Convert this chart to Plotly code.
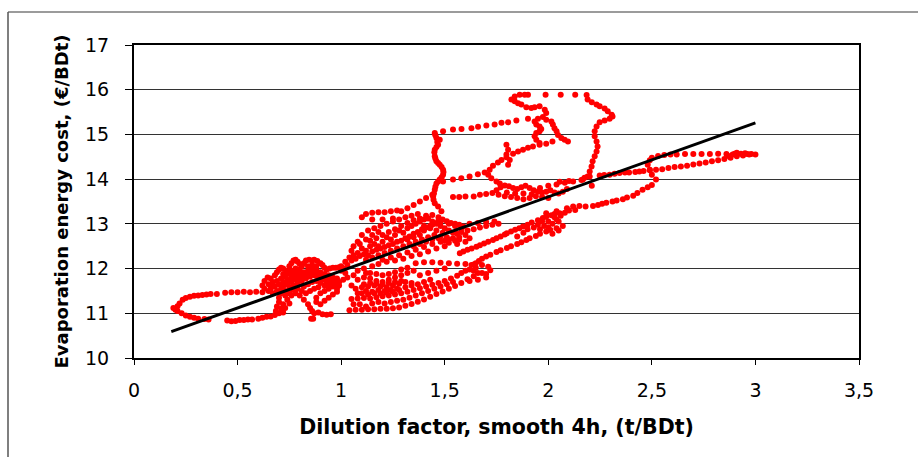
import plotly.graph_objects as go

# ---------------- data ----------------
loop_upper = [(0.19,11.12),(0.20,11.08),(0.21,11.16),(0.22,11.22),(0.235,11.30),(0.25,11.34),(0.27,11.37),
              (0.29,11.39),(0.31,11.40),(0.33,11.41),(0.35,11.42),(0.37,11.43),(0.40,11.43),(0.44,11.46),
              (0.47,11.47),(0.50,11.47),(0.53,11.48),(0.56,11.47),(0.59,11.48),(0.62,11.47),(0.65,11.50)]
loop_lower = [(0.21,11.05),(0.23,11.00),(0.25,10.95),(0.27,10.92),(0.29,10.90),(0.31,10.88),(0.34,10.87),
              (0.36,10.86),(0.45,10.84),(0.47,10.82),(0.49,10.83),(0.51,10.85),(0.53,10.85),(0.55,10.86),
              (0.57,10.86),(0.60,10.88),(0.62,10.90),(0.64,10.92),(0.66,10.93),(0.68,10.96)]
left_cluster = [(0.62,11.62),(0.63,11.72),(0.645,11.80),(0.66,11.78),(0.67,11.70),(0.68,11.85),(0.69,11.92),
                (0.70,11.98),(0.71,12.02),(0.72,12.00),(0.735,11.95),(0.75,12.05),(0.76,12.12),(0.77,12.18),
                (0.78,12.20),(0.79,12.15),(0.80,12.10),(0.81,12.05),(0.82,12.12),(0.83,12.18),(0.845,12.20),
                (0.86,12.18),(0.87,12.20),(0.885,12.17),(0.90,12.12),(0.91,12.08),(0.92,12.02),(0.93,11.98),
                (0.945,12.00),(0.96,12.02),(0.975,12.02),(0.99,12.03),
                (0.66,11.55),(0.68,11.60),(0.70,11.65),(0.72,11.70),(0.74,11.75),(0.76,11.80),(0.78,11.85),
                (0.80,11.88),(0.82,11.92),(0.84,11.95),(0.86,11.98),(0.88,11.96),(0.90,11.92),(0.92,11.88),
                (0.94,11.85),(0.96,11.80),(0.98,11.78),
                (0.67,11.45),(0.69,11.50),(0.71,11.55),(0.73,11.50),(0.75,11.58),(0.77,11.62),(0.79,11.68),
                (0.81,11.72),(0.83,11.78),(0.85,11.82),(0.87,11.85),(0.89,11.80),(0.91,11.75),(0.93,11.70),
                (0.95,11.68),(0.97,11.72),(0.99,11.70),
                (0.72,11.88),(0.74,11.92),(0.76,11.95),(0.78,12.00),(0.80,11.98),(0.84,12.05),(0.86,12.08),
                (0.88,12.05),(0.70,11.35),(0.70,11.25),(0.69,11.15),(0.685,11.05),(0.70,11.00),(0.72,11.02),
                (0.74,11.30),(0.75,11.22),(0.76,11.40),(0.78,11.45),(0.80,11.40),(0.82,11.30),(0.84,11.20),
                (0.85,11.12),(0.86,11.05),(0.87,11.00),(0.855,10.88),(0.865,10.88),
                (0.88,11.35),(0.90,11.45),(0.92,11.50),(0.94,11.55),(0.96,11.60),(0.98,11.55),
                (0.89,11.02),(0.91,10.98),(0.93,10.97),(0.95,10.98),(0.88,11.25),(0.90,11.20),(0.92,11.28),
                (0.94,11.35),(0.96,11.42),(0.98,11.48),
                (0.63,11.55),(0.65,11.65),(0.67,11.62),(0.69,11.72),(0.71,11.78),(0.73,11.82),(0.75,11.88),
                (0.77,11.92),(0.79,11.95),(0.81,11.82),(0.83,11.88),(0.85,11.90),(0.87,11.92),(0.89,11.88),
                (0.91,11.85),(0.93,11.80),(0.95,11.75),(0.97,11.65),(0.99,11.62),(0.72,11.60),(0.74,11.65),
                (0.76,11.70),(0.78,11.75),(0.80,11.78),(0.82,11.60),(0.84,11.65),(0.86,11.70),(0.88,11.72),
                (0.90,11.68),(0.92,11.62),(0.94,11.60),(0.71,11.45),(0.73,11.40),(0.75,11.45),(0.77,11.52),
                (0.79,11.55),(0.81,11.50),(0.83,11.45),(0.85,11.50),(0.87,11.55),(0.89,11.58),(0.71,11.10),
                (0.72,11.20),(0.73,11.12),(1.00,11.95),(1.02,11.90),(1.03,11.80),(1.01,11.75)]
mid_low = [(1.04,11.07),(1.07,11.08),(1.10,11.08),(1.13,11.09),(1.16,11.09),(1.19,11.10),(1.22,11.10),
           (1.25,11.11),(1.28,11.13),(1.31,11.17),(1.34,11.21),(1.37,11.26),(1.40,11.31),(1.43,11.37),
           (1.46,11.43),(1.49,11.49),(1.52,11.55),(1.55,11.61),(1.58,11.68),(1.61,11.76),(1.64,11.83),
           (1.66,11.90),
           (1.05,11.32),(1.08,11.33),(1.11,11.34),(1.14,11.33),(1.17,11.36),(1.20,11.38),(1.23,11.40),
           (1.26,11.42),(1.29,11.45),(1.32,11.48),(1.35,11.52),(1.38,11.56),(1.41,11.60),(1.44,11.64),
           (1.47,11.68),(1.50,11.72),(1.53,11.78),(1.56,11.84),(1.58,11.90),(1.60,11.95),(1.62,11.98),
           (1.07,11.55),(1.10,11.58),(1.13,11.60),(1.16,11.62),(1.19,11.60),(1.22,11.58),(1.25,11.62),
           (1.28,11.66),(1.31,11.70),(1.34,11.68),(1.37,11.65),(1.40,11.70),(1.43,11.75),
           (1.08,11.75),(1.11,11.80),(1.14,11.78),(1.17,11.72),(1.20,11.70),(1.23,11.75),(1.26,11.80),
           (1.29,11.85),(1.32,11.90),(1.35,11.95),
           (1.09,11.20),(1.10,11.45),(1.11,11.65),(1.12,11.90),(1.11,12.00),
           (1.12,11.50),(1.15,11.48),(1.18,11.52),(1.21,11.50),(1.24,11.52),(1.27,11.55),(1.14,11.68),
           (1.17,11.66),(1.20,11.65),(1.23,11.68),(1.26,11.70),(1.29,11.72),
           (1.38,11.85),(1.42,11.90),(1.46,11.95),(1.50,12.00),
           (1.36,12.12),(1.40,12.14),(1.44,12.14),(1.48,12.13),(1.52,12.12),(1.56,12.11),(1.60,12.10),
           (1.64,12.09),(1.68,12.08),(1.71,12.04),(1.72,11.96),(1.70,11.88),
           (1.06,11.20),(1.08,11.45),(1.12,11.15),(1.15,11.22),(1.18,11.25),(1.21,11.22),(1.24,11.25),
           (1.27,11.28),(1.30,11.30),(1.33,11.35),(1.36,11.40),(1.39,11.45),(1.42,11.50),(1.45,11.55),
           (1.48,11.60),(1.51,11.65),(1.54,11.70),
           (1.13,11.42),(1.16,11.45),(1.19,11.44),(1.22,11.46),(1.25,11.48),(1.28,11.52),(1.31,11.58),
           (1.34,11.62),(1.05,11.62),(1.06,11.85),(1.08,11.95),(1.14,11.90),(1.17,11.88),(1.20,11.85),
           (1.23,11.88),(1.26,11.92),(1.29,11.98),(1.32,12.02),
           (1.62,11.72),(1.64,11.95),(1.65,12.02),(1.68,11.90),(1.70,11.80),(1.66,11.75)]
core = [(1.00,12.05),(1.02,12.15),(1.04,12.25),(1.06,12.30),(1.05,12.40),(1.08,12.35),(1.10,12.45),
        (1.12,12.40),(1.14,12.50),(1.16,12.55),(1.18,12.50),(1.20,12.60),(1.22,12.70),(1.24,12.65),
        (1.26,12.75),(1.28,12.85),(1.30,12.80),(1.32,12.90),(1.34,12.95),(1.36,13.00),(1.38,13.05),
        (1.40,13.10),(1.42,13.12),(1.44,13.05),(1.46,13.00),(1.48,12.95),(1.50,12.90),(1.52,12.85),
        (1.54,12.80),(1.56,12.78),
        (1.12,12.20),(1.15,12.25),(1.18,12.30),(1.21,12.35),(1.24,12.40),(1.27,12.45),(1.30,12.50),
        (1.33,12.55),(1.36,12.60),(1.39,12.65),(1.42,12.70),(1.45,12.75),(1.48,12.72),(1.51,12.70),
        (1.54,12.68),(1.57,12.70),(1.60,12.75),
        (1.15,12.05),(1.18,12.10),(1.22,12.15),(1.26,12.18),(1.30,12.22),(1.34,12.28),(1.38,12.32),
        (1.42,12.38),(1.46,12.45),(1.50,12.50),
        (1.08,12.60),(1.10,12.75),(1.13,12.85),(1.16,12.90),(1.19,12.95),(1.22,13.00),(1.25,13.05),
        (1.28,13.10),(1.31,13.15),(1.34,13.18),(1.37,13.22),
        (1.10,13.15),(1.12,13.22),(1.15,13.25),(1.18,13.26),(1.21,13.26),(1.24,13.28),(1.27,13.30),
        (1.15,13.10),(1.20,13.10),(1.25,13.12),
        (1.40,12.85),(1.43,12.90),(1.46,12.85),(1.49,12.80),(1.40,12.95),(1.44,12.98),(1.48,13.05),
        (1.52,13.00),(1.55,12.95),(1.58,12.90),(1.38,12.75),(1.35,12.70),(1.32,12.65),
        (1.52,12.65),(1.55,12.62),(1.57,12.65),
        (1.29,13.28),(1.32,13.35),(1.35,13.42),(1.38,13.50),(1.41,13.58),(1.44,13.65),
        (1.01,12.00),(1.03,12.08),(1.05,12.18),(1.07,12.22),(1.09,12.28),(1.11,12.32),(1.13,12.30),
        (1.15,12.38),(1.17,12.42),(1.19,12.45),(1.21,12.48),(1.23,12.52),(1.25,12.55),(1.27,12.60),
        (1.29,12.62),(1.31,12.68),(1.33,12.72),(1.35,12.78),(1.37,12.82),(1.39,12.88),(1.41,12.92),
        (1.43,12.96),(1.45,13.02),(1.47,13.08),(1.49,13.10),(1.51,13.06),(1.53,13.02),(1.55,13.00),
        (1.57,12.98),(1.59,12.94),
        (1.14,12.62),(1.17,12.68),(1.20,12.75),(1.23,12.82),(1.26,12.88),(1.29,12.95),(1.32,13.02),
        (1.35,13.08),(1.38,13.12),(1.41,13.18),(1.44,13.20),(1.47,13.15),
        (1.20,12.20),(1.24,12.25),(1.28,12.30),(1.32,12.36),(1.36,12.42),(1.40,12.48),(1.44,12.55),
        (1.48,12.60),(1.52,12.58),(1.56,12.55),(1.60,12.60),(1.62,12.68),
        (1.06,12.50),(1.09,12.55),(1.12,12.65),(1.15,12.75),(1.18,12.82),
        (1.35,12.50),(1.38,12.55),(1.41,12.60),(1.44,12.65),(1.47,12.68),(1.50,12.62),
        (1.58,12.82),(1.61,12.85),(1.64,12.88),(1.67,12.92),(1.70,12.95),(1.73,12.98),(1.76,13.00),
        (1.62,13.00),(1.66,13.02),(1.70,13.04),(1.74,13.05)]
top_row_core = [(1.54,13.60),(1.57,13.60),(1.60,13.61),(1.64,13.61),(1.67,13.65),(1.70,13.67),(1.73,13.69)]
blob_13_8 = [(1.75,13.75),(1.77,13.82),(1.79,13.86),(1.81,13.84),(1.83,13.80),(1.85,13.78),(1.87,13.82),
             (1.89,13.85),(1.91,13.80),(1.93,13.75),(1.95,13.72),(1.97,13.70),(1.99,13.72),(2.01,13.75),
             (2.03,13.70),(2.05,13.68),(2.07,13.72),(2.09,13.78),
             (1.76,13.65),(1.79,13.62),(1.82,13.60),(1.85,13.58),(1.88,13.55),(1.91,13.58),(1.94,13.62),
             (1.97,13.60),(2.00,13.58),(1.80,13.70),(1.84,13.68),(1.88,13.68),(1.92,13.66),(1.96,13.80),
             (2.00,13.85),(2.04,13.88),(2.08,13.92),(2.12,13.95)]
right_low_diag = [(1.573,12.34),(1.61,12.42),(1.653,12.49),(1.69,12.56),(1.733,12.64),(1.77,12.72),
                  (1.80,12.79),(1.84,12.87),(1.878,12.94),(1.92,13.03),(1.974,13.13),(2.015,13.19),
                  (2.055,13.24),
                  (1.629,12.08),(1.665,12.17),(1.70,12.27),(1.75,12.37),(1.80,12.46),(1.85,12.55),
                  (1.894,12.64),(1.94,12.73),(1.99,12.83),(2.04,12.90),
                  (1.99,13.24),(2.04,13.28),(2.09,13.35),(2.12,13.39),(2.15,13.40),(2.18,13.39),(2.216,13.40),
                  (2.26,13.45),(2.31,13.50),(2.36,13.55),(2.41,13.63),(2.455,13.76),(2.48,13.82),(2.50,13.87),
                  (2.52,13.99),(2.50,14.10),(2.49,14.21),(2.48,14.32),(2.49,14.42),
                  (2.02,13.00),(2.04,13.10),(2.06,13.18),(2.00,12.92),(1.97,13.05),(1.95,12.98),
                  (1.59,12.38),(1.63,12.45),(1.67,12.52),(1.71,12.60),(1.75,12.68),(1.79,12.76),(1.82,12.83),
                  (1.86,12.90),(1.90,12.98),(1.95,13.08),(1.99,13.16),(2.03,13.22),
                  (1.65,12.12),(1.68,12.22),(1.72,12.31),(1.77,12.41),(1.82,12.50),(1.87,12.59),(1.91,12.68),
                  (1.96,12.78),(2.01,12.86),
                  (1.98,12.95),(2.00,13.05),(2.03,13.15),(2.05,13.05),(2.07,12.95),(2.05,12.85),(2.02,12.78),
                  (1.96,12.88),(1.93,12.92),(1.90,12.88),(1.88,12.80),(1.85,12.72),(2.08,13.25),(2.10,13.30),
                  (2.13,13.31),(2.24,13.42),(2.28,13.47),(2.33,13.52),(2.38,13.59),(2.43,13.69)]
branch_14 = [(2.055,13.94),(2.10,13.96),(2.167,13.99),(2.20,14.06),(2.248,14.08),(2.296,14.10),
             (2.344,14.14),(2.39,14.15),(2.44,14.17),(2.46,14.18),(2.49,14.20),(2.52,14.21),(2.55,14.22),
             (2.58,14.25),(2.61,14.27),(2.64,14.28),(2.67,14.30),(2.70,14.33),(2.73,14.35),(2.76,14.37),
             (2.79,14.40),(2.82,14.42),(2.85,14.45),(2.88,14.48),(2.91,14.51),(2.94,14.53),(2.21,13.85),
             (2.27,14.09),(2.32,14.12),(2.37,14.15),(2.42,14.16)]
row_14_56 = [(2.50,14.48),(2.53,14.52),(2.56,14.54),(2.59,14.55),(2.62,14.55),(2.66,14.56),(2.70,14.56),
             (2.74,14.56),(2.78,14.56),(2.82,14.57),(2.86,14.56),(2.90,14.57),(2.93,14.57),(2.96,14.56),
             (2.98,14.56),(3.00,14.55),(2.87,14.52),(2.89,14.55),(2.91,14.59),(2.95,14.58),(2.97,14.55)]
left_squiggle = [(1.452,15.03),(1.46,14.92),(1.476,14.88),(1.468,14.77),(1.452,14.66),(1.452,14.51),
                 (1.46,14.40),(1.476,14.32),(1.492,14.21),(1.492,14.10),(1.476,13.99),(1.46,13.90),
                 (1.452,13.76),(1.444,13.61),(1.452,13.46),(1.468,13.39),(1.484,13.28),
                 (1.455,14.98),(1.464,14.83),(1.46,14.72),(1.45,14.60),(1.455,14.46),(1.468,14.36),
                 (1.485,14.27),(1.494,14.16),(1.485,14.04),(1.468,13.95),(1.455,13.83),(1.448,13.68),
                 (1.446,13.54)]
row_15_2 = [(1.492,15.07),(1.54,15.11),(1.581,15.12),(1.629,15.14),(1.661,15.17),(1.701,15.20),
            (1.741,15.22),(1.774,15.26),(1.806,15.27),(1.846,15.31),(1.902,15.35)]
diag_upper = [(1.492,13.95),(1.54,13.99),(1.58,14.02),(1.62,14.06),(1.66,14.11),(1.693,14.15),(1.717,14.21),
              (1.733,14.30),(1.757,14.37),(1.774,14.43),(1.798,14.49),(1.83,14.57),(1.854,14.62),
              (1.878,14.66),(1.902,14.70),(1.926,14.73),(1.958,14.77),(1.99,14.79),(2.02,14.84),
              (1.798,14.77),(1.806,14.66),(1.798,14.55),(1.814,14.43),(1.806,14.32),
              (1.71,14.10),(1.725,14.02),(1.75,13.95),(1.766,13.90)]
mid_squiggle = [(1.822,15.78),(1.838,15.74),(1.854,15.70),(1.87,15.67),(1.894,15.61),(1.918,15.59),
                (1.934,15.61),(1.958,15.63),(1.983,15.55),(1.99,15.48),(1.974,15.39),(1.95,15.35),
                (1.934,15.29),(1.942,15.22),(1.958,15.18),(1.966,15.12),(1.958,15.07),(1.942,15.03),
                (1.934,14.96),(1.942,14.88),(1.958,14.81),
                (1.99,15.33),(2.015,15.29),(2.022,15.22),(2.03,15.14),(2.04,15.07),(2.047,14.99),
                (2.063,14.92),(2.079,14.88),(2.095,14.84)]
top_row = [(1.838,15.85),(1.862,15.89),(1.886,15.89),(1.902,15.89),(1.987,15.89),(2.06,15.89),(2.13,15.89),
           (2.185,15.88)]
right_squiggle = [(2.19,15.78),(2.21,15.72),(2.233,15.67),(2.248,15.63),(2.272,15.58),(2.287,15.52),
                  (2.306,15.44),(2.31,15.40),(2.296,15.35),(2.272,15.31),(2.248,15.27),(2.233,15.18),
                  (2.224,15.07),(2.224,14.96),(2.233,14.84),(2.238,14.73),(2.233,14.62),(2.224,14.51),
                  (2.214,14.40),(2.209,14.28),(2.20,14.17),(2.19,14.06),(2.175,14.03),(2.16,13.98)]

segments = [loop_upper, loop_lower, left_cluster, mid_low, core, top_row_core, blob_13_8,
            right_low_diag, branch_14, row_14_56, left_squiggle, row_15_2, diag_upper,
            mid_squiggle, top_row, right_squiggle]

trend_x = [0.18, 3.0]
trend_y = [10.59, 15.26]

x_ticks = [0, 0.5, 1, 1.5, 2, 2.5, 3, 3.5]
y_ticks = [10, 11, 12, 13, 14, 15, 16, 17]

pts_x = [p[0] for s in segments for p in s]
pts_y = [p[1] for s in segments for p in s]

fig = go.Figure()
fig.add_trace(go.Scatter(x=pts_x, y=pts_y, mode="markers",
                         marker=dict(color="#FF0000", size=6, line=dict(width=0)),
                         showlegend=False))
fig.add_trace(go.Scatter(x=trend_x, y=trend_y, mode="lines",
                         line=dict(color="black", width=3), showlegend=False))

tick_font = dict(family="DejaVu Sans", size=19, color="black")
xtitle_font = dict(family="DejaVu Sans", size=20.5, color="black", weight="bold")
ytitle_font = dict(family="DejaVu Sans", size=18, color="black", weight="bold")

fig.update_layout(
    width=918, height=457,
    margin=dict(l=134, r=59, t=45, b=99),
    paper_bgcolor="white", plot_bgcolor="white",
    separators=",.",
    xaxis=dict(range=[0, 3.5], tickvals=x_ticks, ticks="outside", ticklen=5, tickcolor="black",
               tickfont=tick_font, showline=True, linecolor="black", linewidth=1.5, mirror=True,
               showgrid=False, zeroline=False, ticklabelstandoff=9,
               title=dict(text="Dilution factor, smooth 4h, (t/BDt)", font=xtitle_font, standoff=20)),
    yaxis=dict(range=[10, 17], tickvals=y_ticks, ticks="outside", ticklen=7, tickcolor="black",
               tickfont=tick_font, showline=True, linecolor="black", linewidth=2, mirror=True,
               showgrid=True, gridcolor="#333333", gridwidth=1, zeroline=False, ticklabelstandoff=12,
               title=dict(text="Evaporation energy cost, (€/BDt)", font=ytitle_font, standoff=12)),
    shapes=[
        dict(type="line", xref="paper", yref="paper", x0=(8-134)/725, x1=(918-134)/725,
             y0=(358-12)/313, y1=(358-12)/313, line=dict(color="#7a7a7a", width=1.5)),
        dict(type="line", xref="paper", yref="paper", x0=(8-134)/725, x1=(8-134)/725,
             y0=(358-12)/313, y1=(358-460)/313, line=dict(color="#555555", width=1.5)),
    ],
)

fig.write_html("out.html")
